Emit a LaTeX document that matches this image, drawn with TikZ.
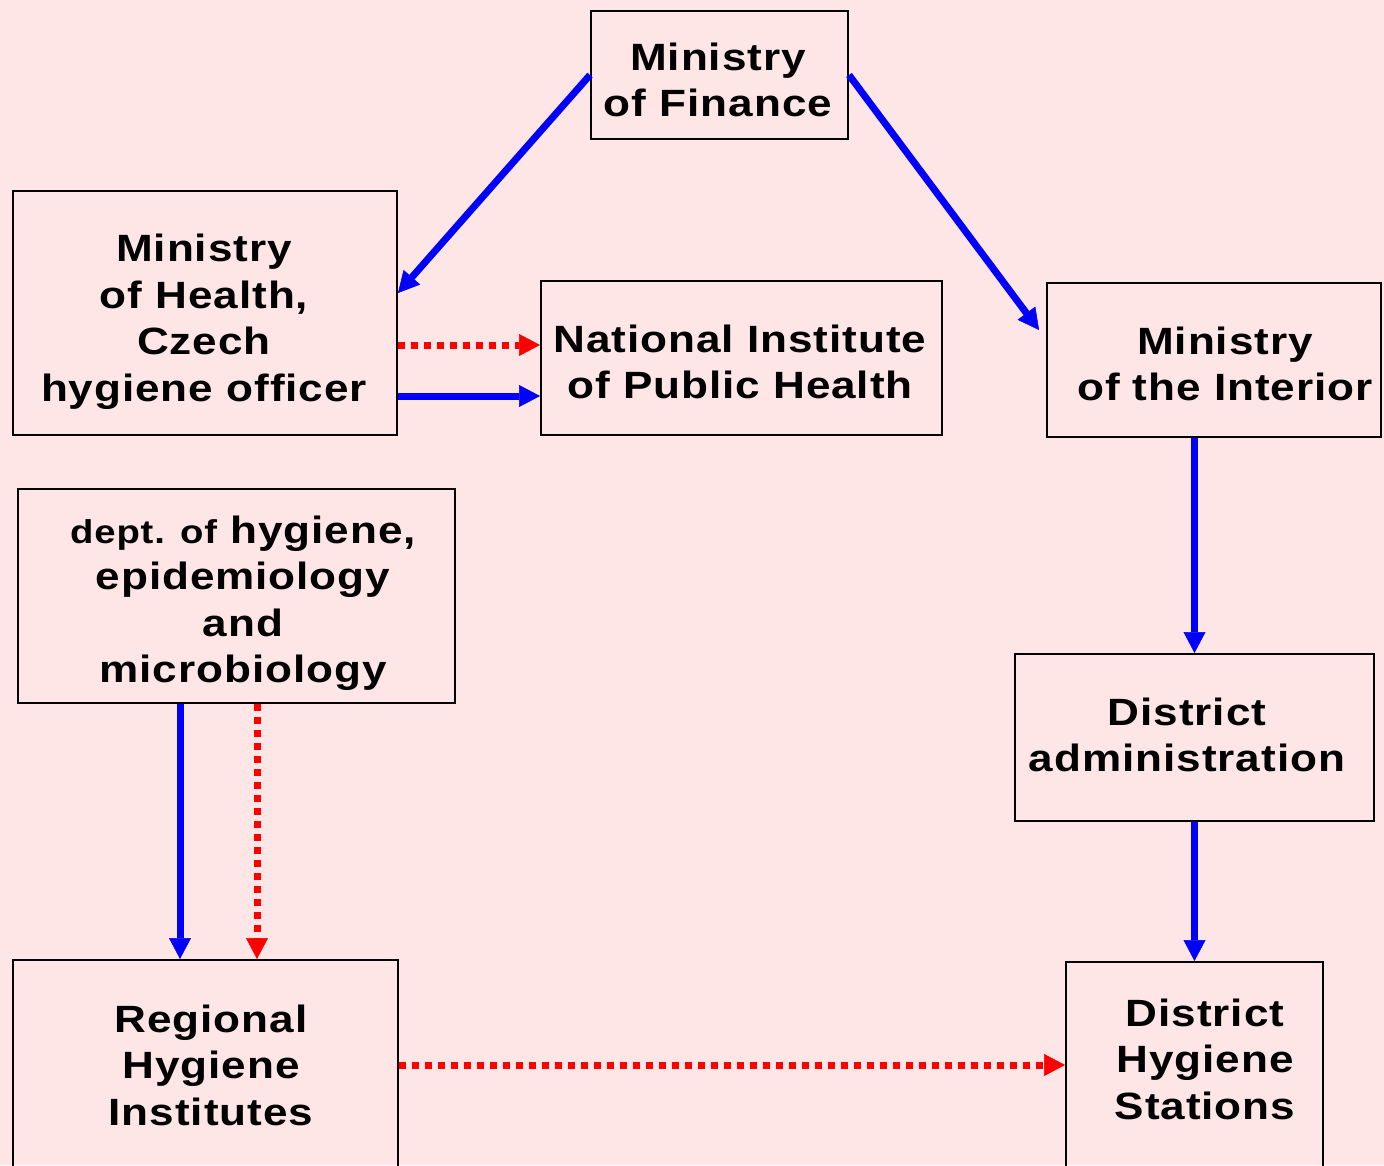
\documentclass[tikz,border=0pt]{standalone}
\usepackage{fontspec}
\setmainfont{Liberation Sans}[FakeStretch=1.16,LetterSpace=2.5]
\usetikzlibrary{arrows.meta}
\definecolor{bg}{RGB}{255,230,230}
\definecolor{myblue}{RGB}{0,0,255}
\definecolor{myred}{RGB}{255,0,0}
\begin{document}
\begin{tikzpicture}[x=1pt,y=-1pt,
  box/.style={draw=black, line width=2pt, rectangle, inner sep=0pt},
  lbl/.style={font=\bfseries\fontsize{38}{46.5}\selectfont, align=center, inner sep=0pt},
  tip/.style={-{Triangle[length=21pt,width=22pt,line width=0.5pt]}},
  bluearrow/.style={draw=myblue, line width=7pt, tip},
  redarrow/.style={draw=myred, line width=7pt, dash pattern=on 7pt off 6pt, tip}]
\fill[bg] (0,0) rectangle (1384,1165);
\useasboundingbox (0,0) rectangle (1384,1165);
\clip (0,0) rectangle (1384,1165);
% boxes
\node[box, minimum width=257pt, minimum height=128pt] (fin) at (719.5,75) {};
\node[box, minimum width=384pt, minimum height=244pt] (health) at (205,313) {};
\node[box, minimum width=401pt, minimum height=154pt] (niph) at (741.5,358) {};
\node[box, minimum width=334pt, minimum height=154pt] (int) at (1214,360) {};
\node[box, minimum width=437pt, minimum height=214pt] (dept) at (236.5,596) {};
\node[box, minimum width=359pt, minimum height=167pt] (adm) at (1194.5,737.5) {};
\node[box, minimum width=385pt, minimum height=300pt] (reg) at (205.5,1110) {};
\node[box, minimum width=257pt, minimum height=300pt] (dhs) at (1194.5,1112) {};
% labels
\node[lbl] (finT) at (718,80) {Ministry\\of Finance};
\node[lbl] (healthT) at (204,322) {Ministry\\of Health,\\Czech\\hygiene officer};
\node[lbl] (niphT) at (740,362) {National Institute\\of Public Health};
\node[lbl] (intT) at (1225,364) {Ministry\\of the Interior};
\node[lbl] (deptT) at (243,603) {{\fontsize{33}{46.5}\selectfont dept. of} hygiene,\\epidemiology\\and\\microbiology};
\node[lbl] (admT) at (1187,735) {District\\administration};
\node[lbl] (regT) at (211,1065) {Regional\\Hygiene\\Institutes};
\node[lbl] (dhsT) at (1205,1059) {District\\Hygiene\\Stations};
% connectors
\draw[bluearrow] (fin.west) -- ([yshift=20pt]health.east);
\draw[bluearrow] (fin.east) -- ([xshift=-7pt,yshift=30pt]int.west);
\draw[redarrow] (health.east |- 0,345) -- (niph.west |- 0,345);
\draw[bluearrow] (health.east |- 0,396) -- (niph.west |- 0,396);
\draw[bluearrow] (int.south -| adm.north) -- (adm.north);
\draw[bluearrow] (adm.south) -- (dhs.north);
\draw[bluearrow] (dept.south -| 180,0) -- (reg.north -| 180,0);
\draw[redarrow] (dept.south -| 257,0) -- (reg.north -| 257,0);
\draw[redarrow] (reg.east |- 0,1065) -- (dhs.west |- 0,1065);
\end{tikzpicture}
\end{document}
